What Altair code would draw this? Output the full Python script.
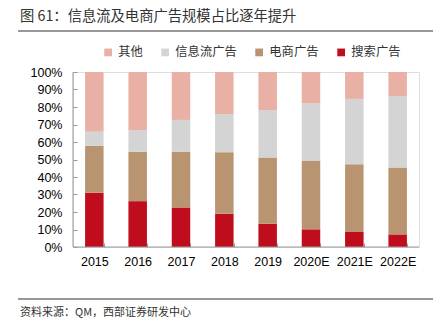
import altair as alt
import pandas as pd

years = ["2015", "2016", "2017", "2018", "2019", "2020E", "2021E", "2022E"]
search = [31.0, 26.2, 22.6, 19.0, 13.3, 10.1, 8.6, 7.2]
ecommerce = [26.8, 28.2, 31.8, 35.2, 37.8, 39.1, 38.7, 38.2]
feed = [8.0, 12.5, 18.2, 21.8, 27.2, 32.9, 37.3, 40.9]
other = [34.2, 33.1, 27.4, 24.0, 21.7, 17.9, 15.4, 13.7]

series_names = ["其他", "信息流广告", "电商广告", "搜索广告"]
series_colors = ["#E9B1A6", "#D4D4D4", "#B89470", "#C00D1E"]
stack_rank = {"搜索广告": 1, "电商广告": 2, "信息流广告": 3, "其他": 4}

title_text = "图 61：信息流及电商广告规模占比逐年提升"
source_text = "资料来源：QM，西部证券研发中心"

rows = []
for name, vals in [("搜索广告", search), ("电商广告", ecommerce), ("信息流广告", feed), ("其他", other)]:
    for y, v in zip(years, vals):
        rows.append({"year": y, "series": name, "value": v, "rank": stack_rank[name]})
df = pd.DataFrame(rows)

W, H = 346, 175
FONT = "Liberation Sans"
CJK = "Noto Sans CJK SC"

bars = alt.Chart(df).mark_bar().encode(
    x=alt.X("year:N", sort=years,
            scale=alt.Scale(paddingInner=0.573, paddingOuter=0.279),
            axis=alt.Axis(title=None, labelAngle=0, domain=False, offset=-4,
                          tickSize=4, tickColor="#999999", tickBand="extent",
                          labelFont=FONT, labelFontSize=12.5, labelColor="#000000",
                          labelPadding=8, grid=False)),
    y=alt.Y("value:Q", stack="zero",
            scale=alt.Scale(domain=[0, 100], nice=False),
            axis=alt.Axis(title=None, values=list(range(0, 101, 10)),
                          labelExpr="datum.value + '%'", domain=False, offset=-4,
                          tickSize=4, tickColor="#999999",
                          labelFont=FONT, labelFontSize=12.5, labelColor="#000000",
                          labelPadding=11, grid=False)),
    color=alt.Color("series:N",
                    scale=alt.Scale(domain=series_names, range=series_colors),
                    legend=alt.Legend(title=None, orient="none", direction="horizontal",
                                      legendX=29, legendY=-26, symbolType="square",
                                      symbolSize=60, symbolStrokeWidth=0,
                                      labelFont=CJK, labelFontSize=12.3, labelColor="#333333",
                                      labelOffset=4, columnPadding=16, padding=0)),
    order=alt.Order("rank:Q", sort="ascending"),
)

one = pd.DataFrame({"k": [0]})
yaxis_line = alt.Chart(one).mark_rule(color="#999999", strokeWidth=1).encode(
    x=alt.value(0), y=alt.value(0), y2=alt.value(H))
xaxis_line = alt.Chart(one).mark_rule(color="#999999", strokeWidth=1).encode(
    x=alt.value(0), x2=alt.value(W), y=alt.value(H))

title = alt.Chart(pd.DataFrame({"t": [title_text]})).mark_text(
    align="left", baseline="middle", font=CJK, fontSize=14.3, color="#333333"
).encode(x=alt.value(-53), y=alt.value(-55), text="t:N")

top_line = alt.Chart(one).mark_rule(color="#333333", strokeWidth=1.2).encode(
    x=alt.value(-55), x2=alt.value(360), y=alt.value(-41))
bottom_line = alt.Chart(one).mark_rule(color="#333333", strokeWidth=1).encode(
    x=alt.value(-55), x2=alt.value(360), y=alt.value(227))

source = alt.Chart(pd.DataFrame({"t": [source_text]})).mark_text(
    align="left", baseline="middle", font=CJK, fontSize=11, color="#333333"
).encode(x=alt.value(-53), y=alt.value(241), text="t:N")

chart = alt.layer(bars, yaxis_line, xaxis_line, title, top_line, bottom_line, source).properties(
    width=W, height=H,
    autosize=alt.AutoSizeParams(type="none"),
    padding={"left": 73, "top": 72, "right": 24, "bottom": 74},
).configure_view(stroke=None).configure(background="white")

chart.save("out.html", embed_options={"renderer": "svg", "actions": False})
